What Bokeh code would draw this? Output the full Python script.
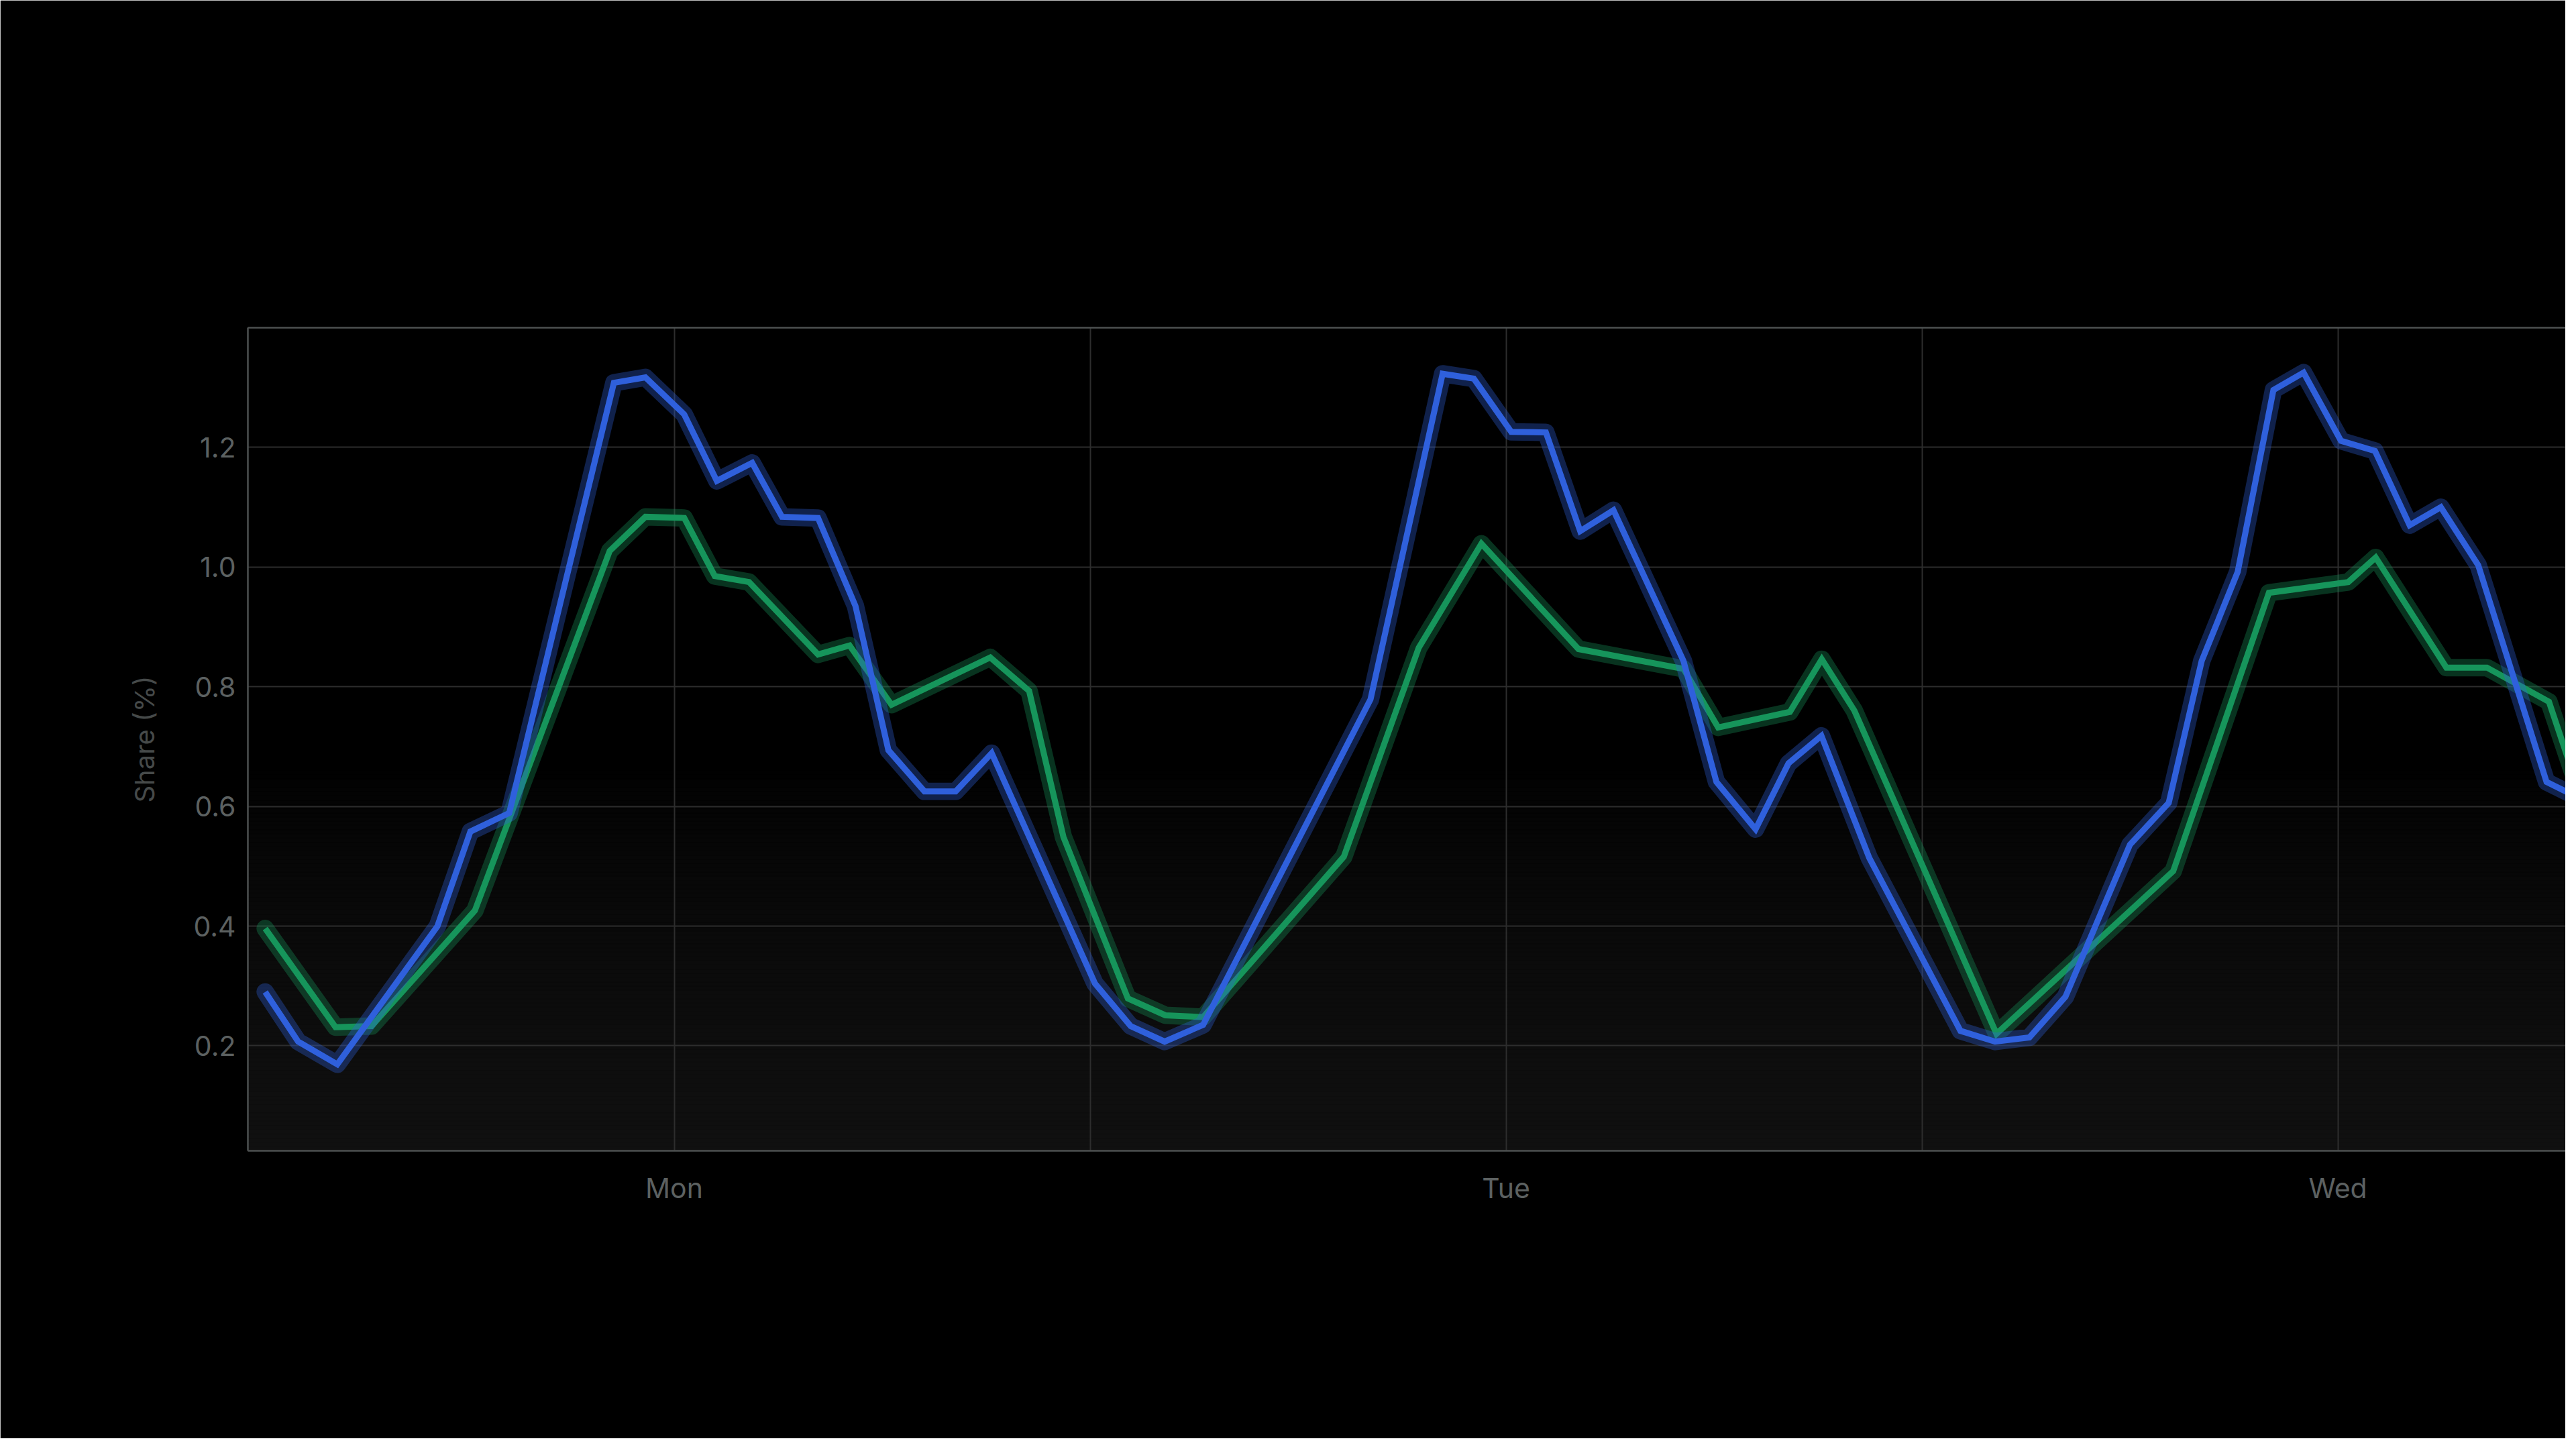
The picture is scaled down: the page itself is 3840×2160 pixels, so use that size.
import numpy as np
from bokeh.plotting import figure
from bokeh.models import Range1d, FixedTicker, LinearAxis, PrintfTickFormatter
from bokeh.embed import file_html
from bokeh.resources import INLINE

# ---- data (hours relative to Monday 00:00, share in %) ----
blue_hours = [-11.8, -10.85, -9.72, -6.83, -5.88, -4.76, -1.74, -0.83, 0.29, 1.23,
              2.25, 3.11, 4.15, 5.23, 6.18, 7.22, 8.12, 9.16, 12.14, 13.17,
              14.15, 15.26, 20.09, 22.17, 23.07, 24.15, 25.15, 26.14, 27.1, 29.12,
              30.07, 31.2, 32.15, 33.1, 34.48, 37.11, 38.11, 39.1, 40.14, 42.0,
              43.12, 44.07, 45.11, 46.14, 47.01, 48.09, 49.07, 50.07, 50.97, 52.05,
              54.02, 55.1]
blue_share = [0.290, 0.207, 0.169, 0.400, 0.558, 0.589, 1.308, 1.317, 1.255, 1.144,
              1.174, 1.084, 1.082, 0.935, 0.694, 0.625, 0.625, 0.689, 0.304, 0.233,
              0.207, 0.235, 0.779, 1.323, 1.315, 1.226, 1.225, 1.060, 1.095, 0.843,
              0.641, 0.562, 0.672, 0.718, 0.514, 0.225, 0.207, 0.214, 0.282, 0.536,
              0.606, 0.843, 0.992, 1.296, 1.325, 1.211, 1.194, 1.070, 1.100, 1.003,
              0.641, 0.610]

green_hours = [-11.8, -9.77, -8.73, -5.75, -1.86, -0.83, 0.29, 1.17, 2.16, 4.15,
               5.06, 6.27, 9.12, 10.24, 11.23, 13.09, 14.17, 15.26, 19.32, 21.48,
               23.29, 26.09, 29.12, 30.12, 32.19, 33.11, 34.05, 38.15, 43.25, 46.01,
               48.3, 49.09, 51.13, 52.3, 54.09, 55.1]
green_share = [0.396, 0.231, 0.233, 0.426, 1.027, 1.084, 1.082, 0.985, 0.975, 0.854,
               0.869, 0.770, 0.849, 0.793, 0.549, 0.279, 0.251, 0.248, 0.516, 0.865,
               1.039, 0.863, 0.830, 0.732, 0.758, 0.846, 0.760, 0.220, 0.492, 0.957,
               0.975, 1.016, 0.832, 0.832, 0.775, 0.600]

day_ticks = [0, 24, 48]
day_labels = ["Mon", "Tue", "Wed"]
grid_hours = [0, 12, 24, 36, 48]
share_ticks = [0.2, 0.4, 0.6, 0.8, 1.0, 1.2]

X0, X1 = -12.3, 54.57
Y0, Y1 = 0.0245, 1.40

BLUE = "#2f60dc"
GREEN = "#16955b"
TICK_COLOR = "#5c6161"
AXIS_COLOR = "#4d5151"
GRID_COLOR = "#2d2d2d"
FONT = "Inter"

p = figure(width=3824, height=2144, output_backend="svg", toolbar_location=None,
           x_range=Range1d(X0, X1), y_range=Range1d(Y0, Y1),
           min_border_left=369, min_border_right=0, min_border_top=488,
           min_border_bottom=429,
           background_fill_color="#000000", border_fill_color="#000000",
           outline_line_color=None)

# subtle vertical gradient in the lower part of the plot area
n = 90
edges = np.linspace(Y0, 0.66, n + 1)
bottoms = edges[:-1]
tops = edges[1:]
mid = (tops + bottoms) / 2
t = (0.66 - mid) / (0.66 - Y0)
lvl = np.clip(np.round(16 * t ** 0.6), 0, 255).astype(int)
bg_colors = ["#%02x%02x%02x" % (l, l, l) for l in lvl]
bg = p.quad(left=X0, right=X1, bottom=bottoms, top=tops,
            fill_color=bg_colors, line_color=bg_colors, line_width=1)
bg.level = "image"

# axes
xa = p.xaxis[0]
ya = p.yaxis[0]
xa.ticker = FixedTicker(ticks=day_ticks)
xa.major_label_overrides = {h: lab for h, lab in zip(day_ticks, day_labels)}
ya.ticker = FixedTicker(ticks=share_ticks)
ya.formatter = PrintfTickFormatter(format="%.1f")
for ax in (xa, ya):
    ax.axis_line_color = AXIS_COLOR
    ax.axis_line_width = 2.5
    ax.major_tick_line_color = None
    ax.minor_tick_line_color = None
    ax.major_tick_out = 0
    ax.major_tick_in = 0
    ax.minor_tick_out = 0
    ax.major_label_text_font = FONT
    ax.major_label_text_font_size = "41px"
    ax.major_label_text_color = TICK_COLOR
xa.major_label_standoff = 30
ya.major_label_standoff = 18
ya.axis_label = "Share (%)"
ya.axis_label_text_font = FONT
ya.axis_label_text_font_size = "40px"
ya.axis_label_text_font_style = "normal"
ya.axis_label_text_color = "#464a4a"
ya.axis_label_standoff = 45

top_axis = LinearAxis(ticker=FixedTicker(ticks=[]), axis_line_color=AXIS_COLOR,
                      axis_line_width=2.5, major_tick_line_color=None,
                      minor_tick_line_color=None, major_label_text_font_size="0px")
p.add_layout(top_axis, "above")

# grids
p.xgrid.ticker = FixedTicker(ticks=grid_hours)
p.ygrid.ticker = FixedTicker(ticks=share_ticks)
for g in (p.xgrid[0], p.ygrid[0]):
    g.grid_line_color = GRID_COLOR
    g.grid_line_width = 2

# series with glow
for hrs, vals, col in [(green_hours, green_share, GREEN), (blue_hours, blue_share, BLUE)]:
    p.line(hrs, vals, line_color=col, line_alpha=0.34, line_width=26,
           line_join="round", line_cap="round")
    p.line(hrs, vals, line_color=col, line_width=9, line_join="miter")

html = file_html(p, INLINE, title="Share")
html = html.replace("<body>", '<body style="background-color:#000000;">', 1)
open("out.html", "w").write(html)
